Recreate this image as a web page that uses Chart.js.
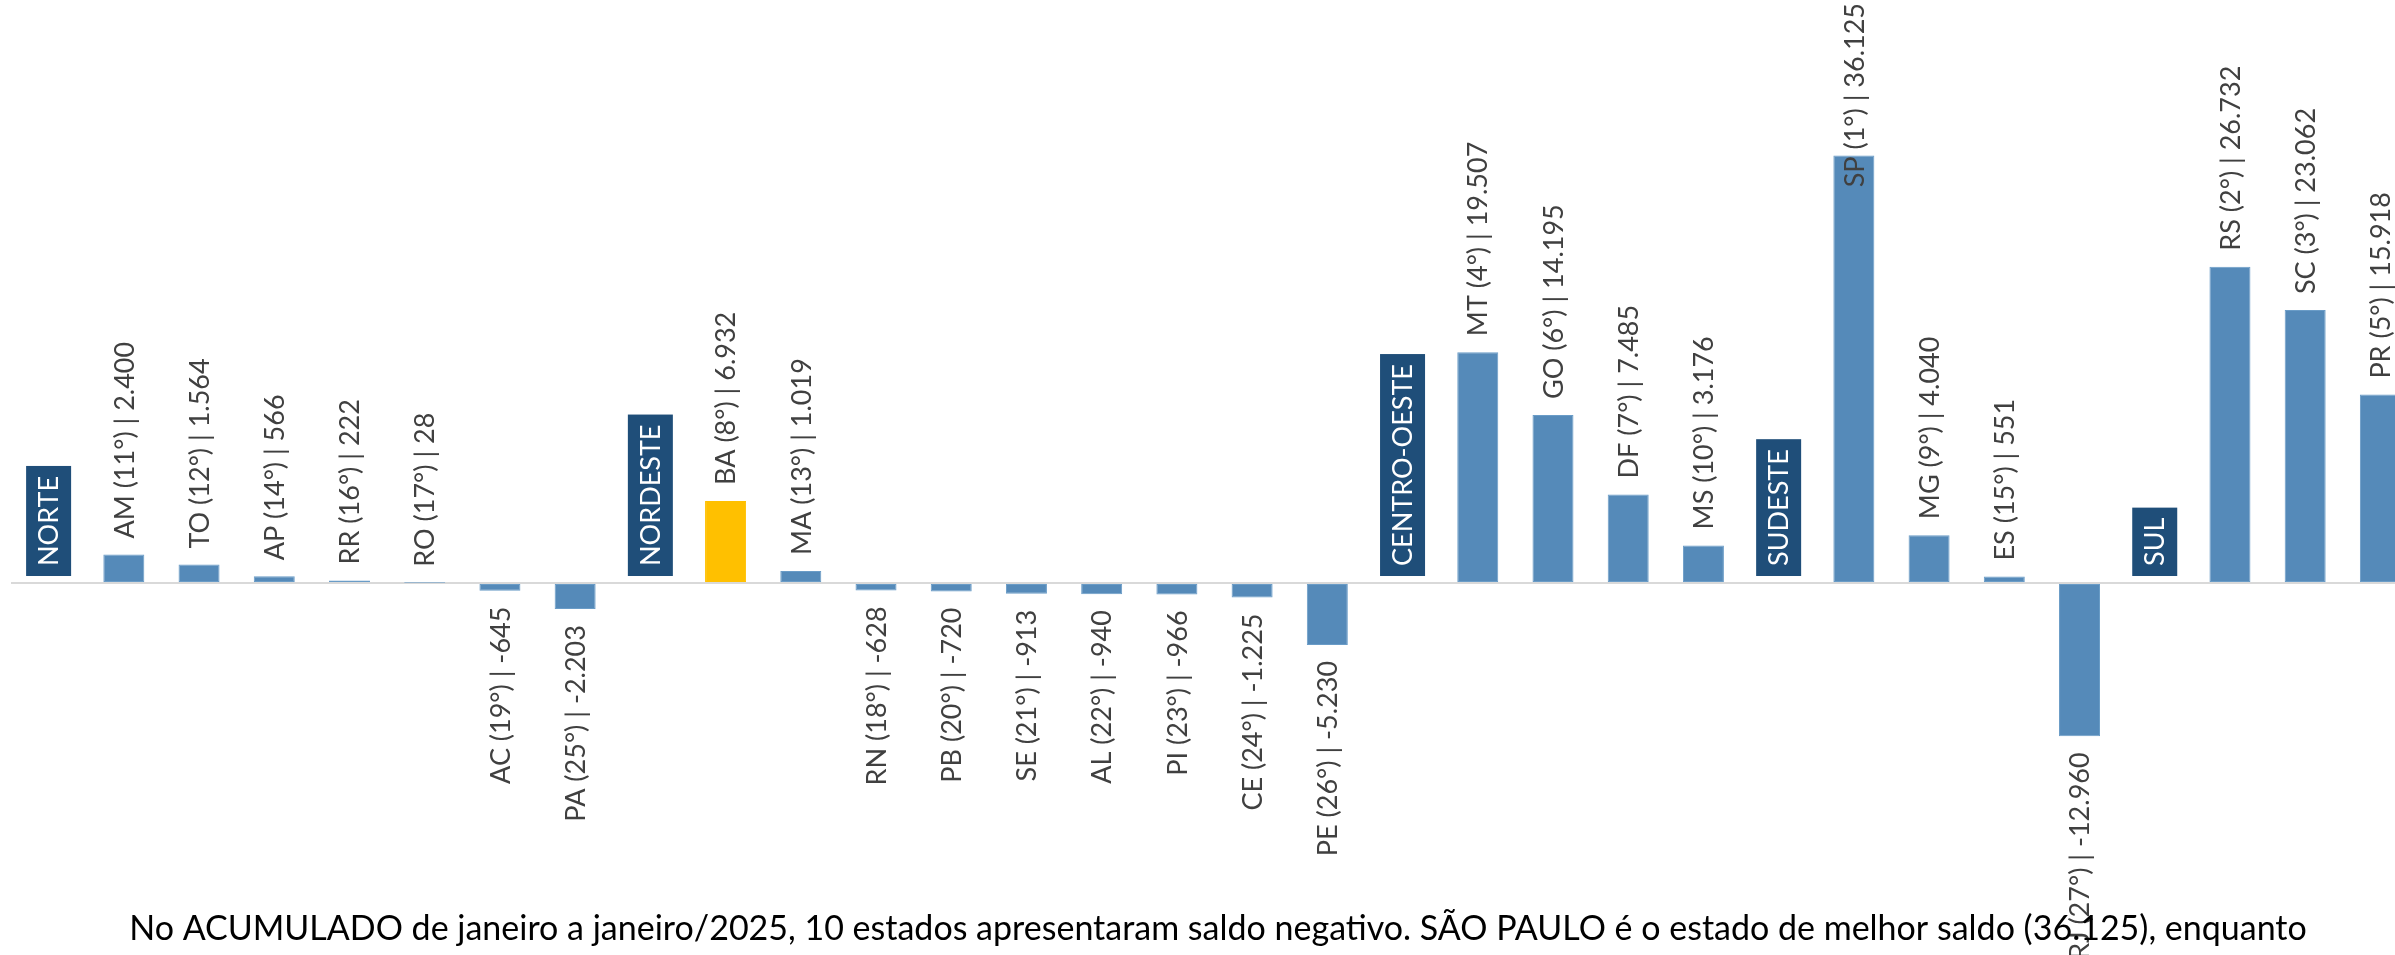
<!DOCTYPE html>
<html>
<head>
<meta charset="utf-8">
<script src="https://cdn.jsdelivr.net/npm/chart.js@4"></script>
<style>
  html, body { margin: 0; padding: 0; background: #fff; overflow: hidden; }
  #wrap { position: relative; width: 2418px; height: 955px; }
</style>
</head>
<body>
<div id="wrap"><canvas id="myChart"></canvas></div>
<script>
// states grouped by region, region names sit in their own slot
var categories = ['NORTE', 'AM', 'TO', 'AP', 'RR', 'RO', 'AC', 'PA',
    'NORDESTE', 'BA', 'MA', 'RN', 'PB', 'SE', 'AL', 'PI', 'CE', 'PE',
    'CENTRO-OESTE', 'MT', 'GO', 'DF', 'MS',
    'SUDESTE', 'SP', 'MG', 'ES', 'RJ',
    'SUL', 'RS', 'SC', 'PR'];
var regions = ['NORTE', 'NORDESTE', 'CENTRO-OESTE', 'SUDESTE', 'SUL'];
var ranks = [null, 11, 12, 14, 16, 17, 19, 25,
    null, 8, 13, 18, 20, 21, 22, 23, 24, 26,
    null, 4, 6, 7, 10,
    null, 1, 9, 15, 27,
    null, 2, 3, 5];
var saldo = [null, 2400, 1564, 566, 222, 28, -645, -2203,
    null, 6932, 1019, -628, -720, -913, -940, -966, -1225, -5230,
    null, 19507, 14195, 7485, 3176,
    null, 36125, 4040, 551, -12960,
    null, 26732, 23062, 15918];
var highlight = 'BA';
var caption = 'No ACUMULADO de janeiro a janeiro/2025, 10 estados apresentaram saldo negativo. SÃO PAULO é o estado de melhor saldo (36.125), enquanto';

var BLUE = '#558ab9';
var YELLOW = '#ffc000';
var NAVY = '#1f4e79';
var LABEL_FONT = '27px Lato';

function fmt(v) {
    var s = String(Math.abs(v)).replace(/\B(?=(\d{3})+(?!\d))/g, '.');
    return (v < 0 ? '-' : '') + s;
}

var barColors = categories.map(function (c) {
    return c === highlight ? YELLOW : BLUE;
});

// value labels + region boxes
var labelPlugin = {
    id: 'labels',
    afterDatasetsDraw: function (chart) {
        var ctx = chart.ctx;
        var xs = chart.scales.x, ys = chart.scales.y;
        var y0 = ys.getPixelForValue(0);
        var meta = chart.getDatasetMeta(0);
        ctx.save();
        ctx.font = LABEL_FONT;
        ctx.textBaseline = 'middle';
        categories.forEach(function (c, i) {
            var x = xs.getPixelForValue(i);
            if (regions.indexOf(c) >= 0) {
                var w = ctx.measureText(c).width;
                var h = w + 20;
                ctx.fillStyle = NAVY;
                ctx.fillRect(x - 22.5, y0 - 7 - h, 45, h);
                ctx.save();
                ctx.translate(x, y0 - 7 - h / 2);
                ctx.rotate(-Math.PI / 2);
                ctx.fillStyle = '#fff';
                ctx.textAlign = 'center';
                ctx.fillText(c, 0, 1);
                ctx.restore();
                return;
            }
            var v = saldo[i];
            var bar = meta.data[i];
            var txt = c + ' (' + ranks[i] + '°) | ' + fmt(v);
            var tw = ctx.measureText(txt).width;
            ctx.save();
            ctx.fillStyle = '#404040';
            if (v >= 0) {
                var a = bar.y - 16;
                if (a - tw < 3) a = 3 + tw;
                ctx.translate(bar.x, a);
                ctx.rotate(-Math.PI / 2);
                ctx.textAlign = 'left';
            } else {
                ctx.translate(bar.x, bar.y + 16);
                ctx.rotate(-Math.PI / 2);
                ctx.textAlign = 'right';
            }
            ctx.fillText(txt, 0, 1);
            ctx.restore();
        });
        ctx.restore();
    },
    afterDraw: function (chart) {
        var ctx = chart.ctx;
        ctx.save();
        ctx.font = '34px Lato';
        ctx.fillStyle = '#000';
        ctx.textAlign = 'center';
        ctx.textBaseline = 'alphabetic';
        ctx.fillText(caption, 1218, 940);
        ctx.restore();
    }
};

function BuildChart() {
    var ctx = document.getElementById('myChart').getContext('2d');
    return new Chart(ctx, {
        type: 'bar',
        data: {
            labels: categories,
            datasets: [{
                data: saldo,
                backgroundColor: barColors,
                borderColor: barColors.map(function (c) { return c === YELLOW ? YELLOW : '#6a9cc7'; }),
                borderWidth: 1,
                borderSkipped: false,
                categoryPercentage: 1,
                barPercentage: 0.545
            }]
        },
        options: {
            responsive: true,
            maintainAspectRatio: false,
            animation: false,
            devicePixelRatio: 1,
            layout: { padding: { left: 11, right: 0, top: 0, bottom: 0 } },
            plugins: { legend: { display: false }, tooltip: { enabled: false } },
            scales: {
                x: { display: false },
                y: {
                    min: -31434,
                    max: 49264,
                    ticks: { display: false },
                    border: { display: false },
                    grid: {
                        drawTicks: false,
                        lineWidth: 2,
                        color: function (c) { return c.tick && c.tick.value === 0 ? '#d9d9d9' : 'rgba(0,0,0,0)'; }
                    },
                    afterBuildTicks: function (axis) { axis.ticks = [{ value: 0 }]; },
                    afterFit: function (axis) { axis.width = 0; }
                }
            }
        },
        plugins: [labelPlugin]
    });
}

window.onload = function () {
    BuildChart();
};
</script>
</body>
</html>
